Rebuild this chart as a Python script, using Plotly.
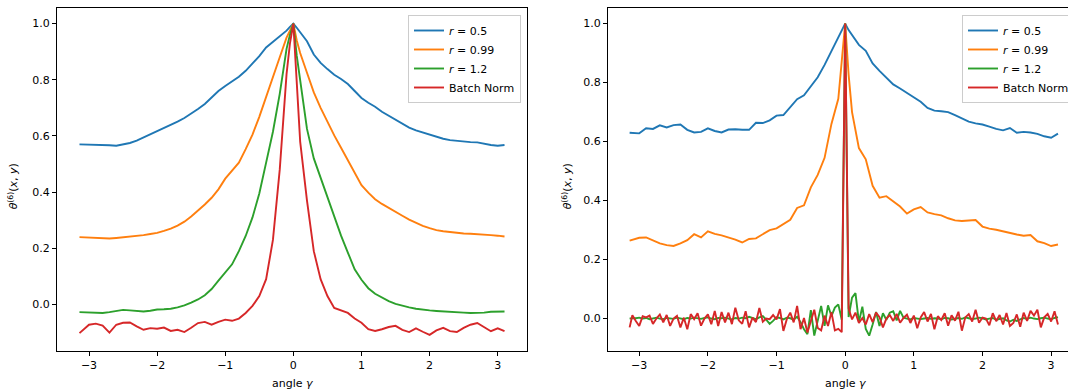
import plotly.graph_objects as go

# ---------------- data ----------------
angle_coarse = [-3.14, -3.0, -2.9, -2.8, -2.7, -2.6, -2.5, -2.4, -2.3, -2.2, -2.1, -2.0,
                -1.9, -1.8, -1.7, -1.6, -1.5, -1.4, -1.3, -1.2, -1.1, -1.0, -0.9, -0.8,
                -0.7, -0.6, -0.5, -0.4, -0.3, -0.2, -0.1, -0.05, 0.0, 0.05, 0.1, 0.2,
                0.3, 0.4, 0.5, 0.6, 0.7, 0.8, 0.9, 1.0, 1.1, 1.2, 1.3, 1.4, 1.5, 1.6,
                1.7, 1.8, 1.9, 2.0, 2.1, 2.2, 2.3, 2.4, 2.5, 2.6, 2.7, 2.8, 2.9, 3.0, 3.1]

angle_fine = [-3.14, -3.10, -3.05, -3.00, -2.95, -2.90, -2.85, -2.80, -2.75, -2.70, -2.65,
              -2.60, -2.55, -2.50, -2.45, -2.40, -2.35, -2.30, -2.25, -2.20, -2.15, -2.10,
              -2.05, -2.00, -1.95, -1.90, -1.85, -1.80, -1.75, -1.70, -1.65, -1.60, -1.55,
              -1.50, -1.45, -1.40, -1.35, -1.30, -1.25, -1.20, -1.15, -1.10, -1.05, -1.00,
              -0.95, -0.90, -0.85, -0.80, -0.75, -0.70, -0.65, -0.60, -0.55, -0.50, -0.45,
              -0.40, -0.35, -0.30, -0.25, -0.20, -0.15, -0.10, -0.05, 0.00, 0.05, 0.10,
              0.15, 0.20, 0.25, 0.30, 0.35, 0.40, 0.45, 0.50, 0.55, 0.60, 0.65, 0.70, 0.75,
              0.80, 0.85, 0.90, 0.95, 1.00, 1.05, 1.10, 1.15, 1.20, 1.25, 1.30, 1.35, 1.40,
              1.45, 1.50, 1.55, 1.60, 1.65, 1.70, 1.75, 1.80, 1.85, 1.90, 1.95, 2.00, 2.05,
              2.10, 2.15, 2.20, 2.25, 2.30, 2.35, 2.40, 2.45, 2.50, 2.55, 2.60, 2.65, 2.70,
              2.75, 2.80, 2.85, 2.90, 2.95, 3.00, 3.05, 3.10]

# left panel
left_r05 = [0.570, 0.569, 0.570, 0.568, 0.567, 0.565, 0.569, 0.575, 0.583, 0.594, 0.605, 0.617,
            0.628, 0.639, 0.651, 0.664, 0.679, 0.696, 0.714, 0.737, 0.760, 0.778, 0.793, 0.811,
            0.832, 0.857, 0.884, 0.915, 0.935, 0.952, 0.975, 0.988, 1.000, 0.985, 0.968, 0.937,
            0.890, 0.860, 0.838, 0.818, 0.803, 0.785, 0.760, 0.735, 0.718, 0.704, 0.686, 0.672,
            0.657, 0.643, 0.630, 0.620, 0.612, 0.604, 0.598, 0.590, 0.585, 0.582, 0.580, 0.578,
            0.577, 0.572, 0.568, 0.565, 0.568]
left_r099 = [0.240, 0.238, 0.236, 0.234, 0.235, 0.237, 0.239, 0.241, 0.244, 0.247, 0.251, 0.255,
             0.262, 0.270, 0.281, 0.295, 0.313, 0.334, 0.356, 0.380, 0.410, 0.448, 0.478, 0.505,
             0.553, 0.605, 0.668, 0.740, 0.815, 0.880, 0.950, 0.978, 1.000, 0.940, 0.895, 0.825,
             0.755, 0.700, 0.650, 0.602, 0.558, 0.513, 0.465, 0.425, 0.398, 0.375, 0.358, 0.343,
             0.330, 0.316, 0.302, 0.290, 0.280, 0.272, 0.265, 0.261, 0.258, 0.255, 0.253, 0.252,
             0.251, 0.249, 0.247, 0.245, 0.242]
left_r12 = [-0.027, -0.028, -0.030, -0.030, -0.027, -0.022, -0.019, -0.021, -0.024, -0.025, -0.022,
            -0.018, -0.017, -0.015, -0.010, -0.003, 0.007, 0.018, 0.033, 0.055, 0.085, 0.115,
            0.143, 0.190, 0.244, 0.310, 0.395, 0.505, 0.615, 0.750, 0.910, 0.960, 1.000, 0.885,
            0.800, 0.625, 0.520, 0.451, 0.380, 0.315, 0.245, 0.185, 0.125, 0.088, 0.058, 0.038,
            0.024, 0.012, 0.002, -0.005, -0.010, -0.015, -0.019, -0.021, -0.023, -0.025, -0.027,
            -0.028, -0.029, -0.030, -0.030, -0.029, -0.026, -0.025, -0.025]
left_bn = [-0.102, -0.072, -0.068, -0.075, -0.100, -0.072, -0.065, -0.064, -0.078, -0.090, -0.084,
           -0.086, -0.082, -0.094, -0.090, -0.098, -0.083, -0.066, -0.062, -0.072, -0.062, -0.054,
           -0.058, -0.050, -0.030, -0.005, 0.030, 0.090, 0.230, 0.480, 0.820, 0.930, 1.000, 0.780,
           0.580, 0.370, 0.190, 0.090, 0.030, -0.012, -0.022, -0.030, -0.050, -0.065, -0.088,
           -0.094, -0.088, -0.080, -0.076, -0.090, -0.098, -0.085, -0.097, -0.108, -0.092, -0.083,
           -0.095, -0.098, -0.083, -0.072, -0.066, -0.080, -0.095, -0.085, -0.095]

# right panel
right_r05 = [0.630, 0.628, 0.645, 0.643, 0.655, 0.648, 0.656, 0.658, 0.640, 0.631, 0.633, 0.645,
             0.636, 0.631, 0.641, 0.642, 0.640, 0.640, 0.664, 0.663, 0.672, 0.688, 0.690, 0.716,
             0.744, 0.757, 0.787, 0.818, 0.860, 0.905, 0.950, 0.974, 1.000, 0.978, 0.960, 0.928,
             0.908, 0.865, 0.840, 0.818, 0.794, 0.780, 0.765, 0.750, 0.735, 0.714, 0.705, 0.703,
             0.700, 0.690, 0.678, 0.668, 0.662, 0.658, 0.651, 0.643, 0.638, 0.646, 0.630, 0.633,
             0.631, 0.626, 0.618, 0.613, 0.627]
right_r099 = [0.264, 0.274, 0.275, 0.266, 0.255, 0.249, 0.246, 0.255, 0.266, 0.286, 0.275, 0.296,
              0.287, 0.282, 0.276, 0.268, 0.258, 0.270, 0.272, 0.285, 0.300, 0.306, 0.322, 0.335,
              0.375, 0.384, 0.445, 0.487, 0.545, 0.660, 0.745, 0.865, 1.000, 0.827, 0.700, 0.578,
              0.540, 0.450, 0.410, 0.415, 0.398, 0.380, 0.356, 0.370, 0.378, 0.360, 0.354, 0.350,
              0.340, 0.333, 0.331, 0.333, 0.334, 0.312, 0.305, 0.301, 0.295, 0.290, 0.285, 0.281,
              0.283, 0.262, 0.256, 0.246, 0.251]
right_r12 = [0.000, 0.002, 0.001, 0.003, 0.000, 0.002, -0.002, 0.001, 0.003, 0.000, -0.002, 0.002,
             0.001, -0.001, 0.003, 0.001, -0.002, 0.002, 0.000, 0.003, 0.001, -0.001, 0.002, 0.004,
             0.000, -0.002, 0.002, 0.001, 0.003, 0.000, -0.003, 0.002, 0.000, 0.003, 0.001, 0.006,
             0.002, -0.002, 0.004, 0.008, -0.004, -0.018, -0.008, 0.004, 0.002, -0.003, 0.003,
             0.001, -0.004, 0.006, -0.012, -0.036, -0.053, 0.029, -0.058, -0.004, 0.043, -0.025,
             0.045, 0.008, 0.037, 0.048, -0.004, 1.000, 0.005, 0.071, 0.086, -0.012, 0.040, -0.035,
             -0.058, -0.020, 0.022, -0.025, 0.018, -0.004, 0.020, 0.025, -0.006, 0.026, 0.003,
             0.000, -0.003, 0.002, 0.001, -0.002, 0.000, 0.002, -0.001, 0.001, 0.000, -0.002,
             0.002, 0.001, -0.003, 0.000, 0.002, -0.001, 0.004, 0.001, -0.002, 0.000, 0.003,
             0.001, -0.003, 0.000, 0.002, -0.004, -0.002, 0.001, -0.006, -0.010, -0.004, -0.008,
             -0.003, 0.002, -0.001, 0.003, 0.000, -0.002, 0.001, 0.003, 0.000, -0.002, 0.002, 0.005]
right_bn = [-0.030, 0.011, -0.008, -0.025, 0.008, 0.004, 0.010, -0.018, 0.000, 0.014, -0.013,
            0.012, -0.025, 0.000, 0.009, -0.030, 0.003, -0.036, 0.015, -0.002, 0.018, -0.024,
            0.000, 0.014, -0.019, 0.026, -0.025, 0.022, -0.013, 0.020, -0.019, 0.037, -0.006,
            -0.018, 0.025, -0.030, 0.003, -0.012, 0.036, -0.011, 0.000, -0.002, 0.012, -0.003,
            0.032, -0.042, -0.002, 0.020, -0.013, 0.043, -0.036, 0.002, -0.047, -0.010, 0.030,
            -0.032, -0.040, 0.010, -0.025, 0.022, -0.040, -0.035, -0.046, 1.000, 0.035, -0.003,
            0.020, -0.015, 0.002, -0.020, 0.015, -0.012, 0.020, 0.005, -0.030, 0.000, 0.012,
            -0.008, 0.016, -0.014, 0.002, 0.013, -0.015, 0.010, -0.033, 0.004, 0.022, -0.010,
            0.016, -0.036, 0.008, -0.005, 0.018, -0.024, 0.011, -0.007, 0.023, -0.041, 0.004,
            0.015, -0.010, 0.030, -0.014, 0.003, 0.000, -0.023, 0.018, -0.009, 0.012, -0.020,
            0.019, -0.025, -0.015, 0.014, -0.028, 0.020, -0.008, 0.026, 0.010, 0.030, -0.030,
            0.004, 0.016, -0.010, 0.025, -0.020]

series_names = ["<i>r</i> = 0.5", "<i>r</i> = 0.99", "<i>r</i> = 1.2", "Batch Norm"]
colors = ["#1f77b4", "#ff7f0e", "#2ca02c", "#d62728"]

for arr in (left_r05, left_r099, left_r12, left_bn, right_r05, right_r099):
    assert len(arr) == len(angle_coarse), len(arr)
for arr in (right_r12, right_bn):
    assert len(arr) == len(angle_fine), len(arr)

# ---------------- figure ----------------
fig = go.Figure()
left_sets = [(angle_coarse, left_r05), (angle_coarse, left_r099),
             (angle_coarse, left_r12), (angle_coarse, left_bn)]
right_sets = [(angle_coarse, right_r05), (angle_coarse, right_r099),
              (angle_fine, right_r12), (angle_fine, right_bn)]

LW = 1.9
for (xs, ys), name, c in zip(left_sets, series_names, colors):
    fig.add_trace(go.Scatter(x=xs, y=ys, mode="lines", name=name,
                             line=dict(color=c, width=LW), xaxis="x", yaxis="y",
                             legend="legend"))
for (xs, ys), name, c in zip(right_sets, series_names, colors):
    fig.add_trace(go.Scatter(x=xs, y=ys, mode="lines", name=name,
                             line=dict(color=c, width=LW), xaxis="x2", yaxis="y2",
                             legend="legend2"))

FONT = "DejaVu Sans, Arial, sans-serif"
W, H = 1068, 392
ML, MR, MT, MB = 57, 0, 8, 41
pw = W - ML - MR
ph = H - MT - MB

axis_common = dict(showline=True, linecolor="black", linewidth=1, ticks="outside",
                   ticklen=4, tickwidth=1, tickcolor="black", showgrid=False,
                   zeroline=False, tickfont=dict(family=FONT, size=11, color="black"))

legend_common = dict(bgcolor="rgba(255,255,255,0.8)", bordercolor="#cccccc", borderwidth=1,
                     font=dict(family=FONT, size=11, color="black"),
                     xanchor="left", yanchor="top", tracegroupgap=0)

fig.update_layout(
    width=W, height=H,
    margin=dict(l=ML, r=MR, t=MT, b=MB, autoexpand=False),
    paper_bgcolor="white", plot_bgcolor="white",
    font=dict(family=FONT, size=11, color="black"),
    xaxis=dict(domain=[0, (527 - ML) / pw], range=[-3.47, 3.43], anchor="y", mirror=True,
               tickvals=[-3, -2, -1, 0, 1, 2, 3], **axis_common),
    yaxis=dict(domain=[0, 1], range=[-0.1655, 1.0555], anchor="x", mirror=True,
               tickvals=[0, 0.2, 0.4, 0.6, 0.8, 1.0], tickformat=".1f", **axis_common),
    xaxis2=dict(domain=[(608 - ML) / pw, 1], range=[-3.455, 3.246], anchor="y2", mirror=True,
                tickvals=[-3, -2, -1, 0, 1, 2, 3], **axis_common),
    yaxis2=dict(domain=[0, 1], range=[-0.110, 1.053], anchor="x2", mirror=False,
                tickvals=[0, 0.2, 0.4, 0.6, 0.8, 1.0], tickformat=".1f", **axis_common),
    legend=dict(x=(408 - ML) / pw, y=1 - (15 - MT) / ph, **legend_common),
    legend2=dict(x=(962 - ML) / pw, y=1 - (15 - MT) / ph, **legend_common),
    showlegend=True,
    hovermode=False,
)

# axis titles as annotations
ytitle = "<i>θ</i><sup>(6)</sup>(<i>x</i>, <i>y</i>)"
xtitle = "angle <i>γ</i>"
ann_font = dict(family=FONT, size=11, color="black")
fig.add_annotation(text=ytitle, xref="paper", yref="paper", x=(13 - ML) / pw, y=0.48,
                   textangle=-90, showarrow=False, xanchor="center", yanchor="middle", font=ann_font)
fig.add_annotation(text=ytitle, xref="paper", yref="paper", x=(567 - ML) / pw, y=0.48,
                   textangle=-90, showarrow=False, xanchor="center", yanchor="middle", font=ann_font)
fig.add_annotation(text=xtitle, xref="paper", yref="paper", x=(292 - ML) / pw,
                   y=-(384 - (H - MB)) / ph, showarrow=False, xanchor="center",
                   yanchor="middle", font=ann_font)
fig.add_annotation(text=xtitle, xref="paper", yref="paper", x=(845 - ML) / pw,
                   y=-(384 - (H - MB)) / ph, showarrow=False, xanchor="center",
                   yanchor="middle", font=ann_font)

fig.write_html("out.html",
               config={"displayModeBar": False, "staticPlot": True},
               post_script="document.body.style.margin='0px';"
                           "document.body.style.overflow='hidden';")
